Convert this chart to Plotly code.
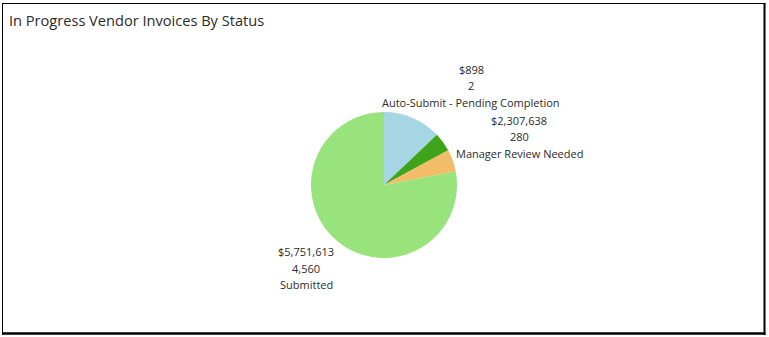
import plotly.graph_objects as go

W, H = 769, 337

# ---- data ----
categories = ["(unlabeled)", "Auto-Submit - Pending Completion", "Manager Review Needed", "Submitted"]
slice_share = [12.9, 4.2, 4.9, 78.0]          # share of pie (%)
amounts = [None, 898, 2307638, 5751613]         # $ shown in labels
counts = [None, 2, 280, 4560]                   # invoice counts shown in labels
colors = ["#A6D5E4", "#3FA31B", "#F2BC69", "#98E37B"]

def px(x):
    return x / W

def py(y):
    return 1 - y / H

fig = go.Figure()
fig.add_trace(go.Pie(
    labels=categories,
    values=slice_share,
    sort=False,
    direction="clockwise",
    rotation=0,
    marker=dict(colors=colors, line=dict(width=0)),
    textinfo="none",
    hoverinfo="label+value",
    showlegend=False,
    domain=dict(x=[px(311), px(457)], y=[py(258), py(112)]),
))

# label anchor positions (pixel centre of the 3-line block)
label_pos = {1: (471, 86), 2: (519, 137), 3: (306, 268)}
font = dict(family="Open Sans, Noto Sans, sans-serif", size=11, color="#2b2b2b")
for i, (cx, cy) in label_pos.items():
    lines = [f"${amounts[i]:,}", f"{counts[i]:,}", categories[i]]
    for k, t in enumerate(lines):
        fig.add_annotation(
            x=px(cx), y=py(cy + (k - 1) * 16.3), xref="paper", yref="paper",
            text=t, showarrow=False, xanchor="center", yanchor="middle",
            font=font,
        )

# title
fig.add_annotation(
    x=px(6.5), y=py(20), xref="paper", yref="paper",
    text="In Progress Vendor Invoices By Status", showarrow=False,
    xanchor="left", yanchor="middle",
    font=dict(family="Open Sans, Noto Sans, sans-serif", size=14.6, color="#2b2b2b"),
)

# frame
shapes = [
    dict(type="line", x0=px(2.5), x1=px(2.5), y0=py(3), y1=py(335), line=dict(color="black", width=1)),
    dict(type="line", x0=px(2), x1=px(765.5), y0=py(3.5), y1=py(3.5), line=dict(color="black", width=1)),
    dict(type="line", x0=px(764.5), x1=px(764.5), y0=py(3), y1=py(335), line=dict(color="black", width=2)),
    dict(type="line", x0=px(2), x1=px(765.5), y0=py(333.5), y1=py(333.5), line=dict(color="black", width=2.5)),
]
for s in shapes:
    s.update(xref="paper", yref="paper")

fig.update_layout(
    width=W, height=H,
    margin=dict(l=0, r=0, t=0, b=0),
    paper_bgcolor="white", plot_bgcolor="white",
    shapes=shapes,
)

fig.write_html("out.html")
